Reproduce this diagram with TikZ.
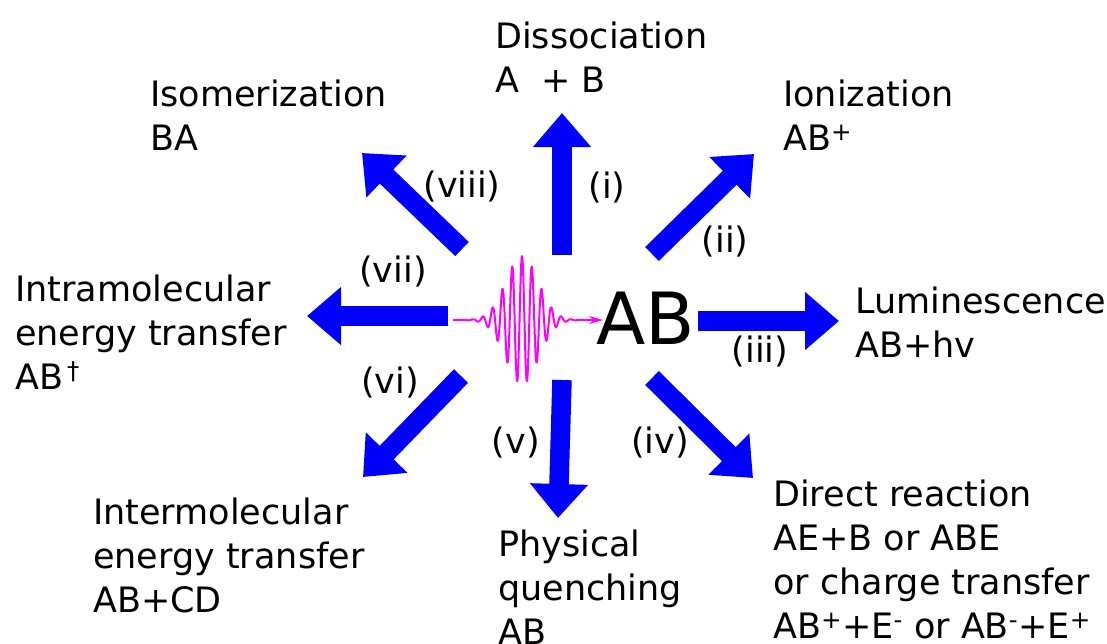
\documentclass[tikz,border=0pt]{standalone}
\usepackage{fontspec}
\setmainfont{DejaVu Sans}
\usetikzlibrary{arrows.meta}
\definecolor{arrblue}{HTML}{0000FF}
\definecolor{wavemag}{HTML}{FF00FF}
\tikzset{
  lbl/.style={anchor=base west, inner sep=0pt, align=left, font=\fontsize{35}{44}\selectfont},
  num/.style={inner sep=0pt, font=\fontsize{35}{40}\selectfont},
  blockarrow/.style={draw=arrblue, fill=arrblue, line width=19.5pt,
    -{Triangle[length=34pt,width=56pt]}}
}
\begin{document}
\begin{tikzpicture}[x=1pt,y=-1pt]
\useasboundingbox (0,0) rectangle (1107,643);
% arrow anchor coordinates
\coordinate (t1) at (562,255); \coordinate (h1) at (562,113);
\coordinate (t2) at (652,254); \coordinate (h2) at (754,154);
\coordinate (t3) at (698,321); \coordinate (h3) at (839,321);
\coordinate (t4) at (652,378); \coordinate (h4) at (753,478);
\coordinate (t5) at (562,380); \coordinate (h5) at (558,518);
\coordinate (t6) at (461,376); \coordinate (h6) at (363,477);
\coordinate (t7) at (448,316); \coordinate (h7) at (307,316);
\coordinate (t8) at (462,249); \coordinate (h8) at (362,153);
\foreach \i in {1,...,8} { \draw[blockarrow] (t\i) -- (h\i); }
% wave packet
\coordinate (ws) at (453,320); \coordinate (we) at (603,320);
\draw[wavemag, line width=2pt, line join=round]
  plot[domain=-69:76, samples=500, smooth]
  ({522+\x}, {320 - 64*exp(-(\x/23)^2)*cos(36.73*\x)});
\draw[wavemag, line width=1.5pt, -{Stealth[length=14pt,width=8pt]}] (590,320) -- (we);
% central molecule
\node[inner sep=0pt, font=\fontsize{72}{80}\selectfont] (AB) at (646,318) {AB};
% products (anchor = baseline of last line)
\node[lbl] (diss) at (495,92) {Dissociation\\A~~+ B};
\node[lbl] (iso) at (150,150) {Isomerization\\BA};
\node[lbl] (ion) at (783,150) {Ionization\\AB\textsuperscript{+}};
\node[lbl] (lum) at (855,357) {Luminescence\\AB+hv};
\node[lbl] (intra) at (15,389) {Intramolecular\\energy transfer\\AB\textsuperscript{\,†}};
\node[lbl] (inter) at (93,612) {Intermolecular\\energy transfer\\AB+CD};
\node[lbl] (phys) at (498,644) {Physical\\quenching\\AB};
\node[lbl] (dir) at (773,638) {Direct reaction\\AE+B or ABE\\or charge transfer\\AB\textsuperscript{+}+E\textsuperscript{-} or AB\textsuperscript{-}+E\textsuperscript{+}};
% pathway labels
\node[num] (n1) at (607,188) {(i)};
\node[num] (n2) at (725,242) {(ii)};
\node[num] (n3) at (760,352) {(iii)};
\node[num] (n4) at (660,443) {(iv)};
\node[num] (n5) at (516,443) {(v)};
\node[num] (n6) at (390,383) {(vi)};
\node[num] (n7) at (393,272) {(vii)};
\node[num] (n8) at (462,187) {(viii)};
\end{tikzpicture}
\end{document}
